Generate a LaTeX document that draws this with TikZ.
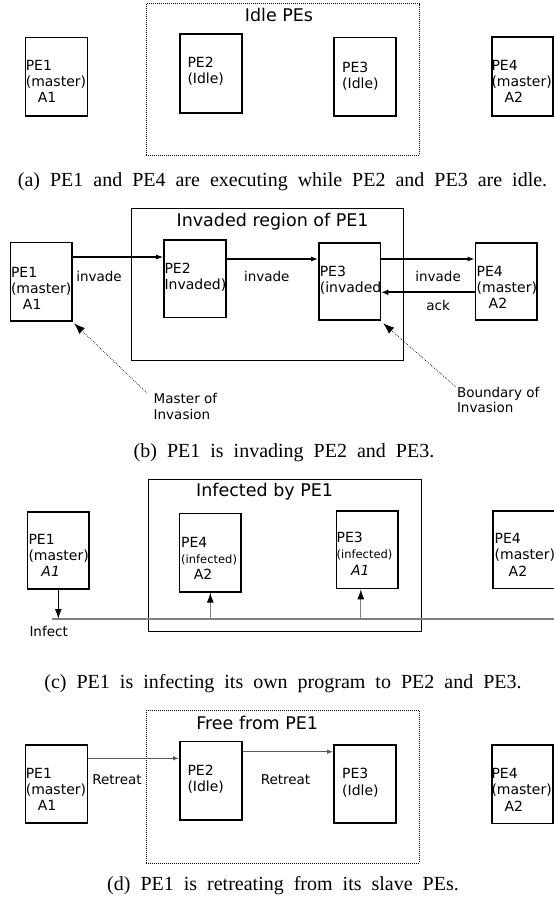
\documentclass[tikz,border=0pt]{standalone}
\usepackage{fontspec}
\setmainfont{DejaVu Sans}
\newfontfamily\capfont{Liberation Serif}
\usetikzlibrary{arrows.meta}
\definecolor{lgray}{HTML}{808080}
\definecolor{rgray}{HTML}{595959}
\newcommand\capsp{\spaceskip=10pt plus 2pt minus 1pt\relax}
\tikzset{
 pebox/.style={draw=black,line width=1.6pt,inner sep=0pt,anchor=north west},
 solidregion/.style={draw=black,line width=1pt,inner sep=0pt,anchor=north west},
 dotregion/.style={draw=black,line width=0.8pt,dash pattern=on 0.8pt off 1.2pt,inner sep=0pt,anchor=north west},
 petext/.style={anchor=north west,inner sep=0pt,align=left,font=\fontsize{14}{16.3}\selectfont},
 notetext/.style={anchor=north west,inner sep=0pt,align=left,font=\fontsize{13.5}{15.5}\selectfont},
 lbl/.style={inner sep=0pt,font=\fontsize{13.5}{16.5}\selectfont},
 ttl/.style={inner sep=0pt,font=\fontsize{17.5}{21}\selectfont},
 capt/.style={inner sep=0pt,font=\capfont\fontsize{20}{24}\selectfont},
 msg/.style={line width=1.1pt,-{Latex[length=7pt,width=5pt]}},
 ackarr/.style={line width=2pt,-{Latex[length=7pt,width=6pt]}},
 pointer/.style={line width=0.7pt,dash pattern=on 0.7pt off 1.3pt,-{Latex[length=11pt,width=8pt]}},
 infarr/.style={line width=1.2pt,-{Latex[length=10pt,width=7pt]}},
 uparr/.style={draw=lgray,line width=1.2pt,-{Latex[length=10pt,width=7pt,color=black]}},
 bus/.style={draw=lgray,line width=1.2pt},
 retarr/.style={draw=rgray,line width=1.1pt,-{Latex[length=6pt,width=4.5pt]}},
}
\begin{document}
\begin{tikzpicture}[x=1pt,y=-1pt]
\useasboundingbox (0,0) rectangle (554,905);

% ---------------- (a) ----------------
\node[dotregion,minimum width=272.8pt,minimum height=151.7pt] (ca) at (145.9,3.3) {};
\node[ttl] (ta) at (279,15) {Idle PEs};
\node[pebox,minimum width=61.9pt,minimum height=78.3pt] (a1) at (24.7,36.7) {};
\node[pebox,minimum width=62.2pt,minimum height=79pt] (a2) at (179.1,33.3) {};
\node[pebox,minimum width=61.8pt,minimum height=78.3pt] (a3) at (333.2,36.7) {};
\node[pebox,minimum width=61.3pt,minimum height=79pt] (a4) at (491,36) {};
\node[petext] (a1t) at (25.6,59.9) {PE1\\(master)\\\hspace*{12pt}A1};
\node[petext] (a2t) at (187.3,56.6) {PE2\\(Idle)};
\node[petext] (a3t) at (342,61.6) {PE3\\(Idle)};
\node[petext] (a4t) at (491.3,59.9) {PE4\\(master)\\\hspace*{13pt}A2};
\node[capt] (capa) at (282.5,182) {\capsp(a) PE1 and PE4 are executing while PE2 and PE3 are idle.};

% ---------------- (b) ----------------
\node[solidregion,minimum width=272.1pt,minimum height=151.7pt] (cb) at (130.7,208.3) {};
\node[ttl] (tb) at (272.6,221.7) {Invaded region of PE1};
\node[pebox,minimum width=61.5pt,minimum height=78.3pt] (b1) at (9.5,241.7) {};
\node[pebox,minimum width=61.9pt,minimum height=77.7pt] (b2) at (163.2,239) {};
\node[pebox,minimum width=61.8pt,minimum height=77pt] (b3) at (318,242.3) {};
\node[pebox,minimum width=61.9pt,minimum height=77pt] (b4) at (474.5,242.3) {};
\node[petext] (b1t) at (10.8,266.6) {PE1\\(master)\\\hspace*{12pt}A1};
\node[petext] (b2t) at (164.3,262.9) {PE2\\Invaded)};
\node[petext] (b3t) at (319.6,265.9) {PE3\\(invaded};
\node[petext] (b4t) at (476.5,265.9) {PE4\\(master)\\\hspace*{12pt}A2};
\coordinate (b1o) at ([yshift=-15.3pt]b1.north east);
\coordinate (b2o) at ([yshift=-20pt]b2.north east);
\coordinate (b3o) at ([yshift=-16.7pt]b3.north east);
\coordinate (b4a) at ([yshift=-50pt]b4.north west);
\draw[msg] (b1o) -- (b1o -| b2.west);
\draw[msg] (b2o) -- (b2o -| b3.west);
\draw[msg] (b3o) -- (b3o -| b4.west);
\draw[ackarr] (b4a) -- (b4a -| b3.east);
\node[lbl] (inv1) at (99,276) {invade};
\node[lbl] (inv2) at (266.8,276) {invade};
\node[lbl] (inv3) at (438.1,276) {invade};
\node[lbl] (ack) at (438.1,305.5) {ack};
\node[notetext] (mlab) at (153.5,393.4) {Master of\\Invasion};
\node[notetext] (blab) at (456.8,386.8) {Boundary of\\Invasion};
\coordinate (mfrom) at (147,393);
\coordinate (bfrom) at (456,387);
\coordinate (mto) at ([xshift=1.5pt,yshift=-1.7pt]b1.south east);
\coordinate (bto) at ([xshift=1.8pt,yshift=-2.4pt]b3.south east);
\draw[pointer] (mfrom) -- (mto);
\draw[pointer] (bfrom) -- (bto);
\node[capt] (capb) at (284,452.5) {\capsp(b) PE1 is invading PE2 and PE3.};

% ---------------- (c) ----------------
\node[solidregion,minimum width=272.1pt,minimum height=151.7pt] (cc) at (148.4,479.3) {};
\node[ttl] (tc) at (264.6,491.7) {Infected by PE1};
\node[pebox,minimum width=61.6pt,minimum height=77.3pt] (c1) at (26.7,511) {};
\node[pebox,minimum width=61.6pt,minimum height=78.3pt] (c2) at (178.7,512.7) {};
\node[pebox,minimum width=61.6pt,minimum height=77.7pt] (c3) at (335.7,510) {};
\node[pebox,minimum width=64pt,minimum height=77.7pt] (c4) at (492.3,510) {};
\node[petext] (c1t) at (28.3,533.9) {PE1\\(master)\\\hspace*{13pt}\textit{A1}};
\node[petext] (c2t) at (181,536.6) {PE4\\{\fontsize{11.5}{14}\selectfont(infected)}\\\hspace*{12.6pt}A2};
\node[petext] (c3t) at (336.4,531.9) {PE3\\{\fontsize{11.5}{14}\selectfont(infected)}\\\hspace*{14.5pt}\textit{A1}};
\node[petext] (c4t) at (494.5,533.2) {PE4\\(master)\\\hspace*{14pt}A2};
\coordinate (ls) at (51.7,619);
\coordinate (le) at (556,619);
\draw[bus] (ls) -- (le);
\coordinate (c3a) at ([xshift=-6.5pt]c3.south);
\draw[infarr] (c1.south) -- (c1.south |- ls);
\draw[uparr] (c2.south |- ls) -- (c2.south);
\draw[uparr] (c3a |- ls) -- (c3a);
\node[lbl,anchor=west] (inf) at (29.3,631.7) {Infect};
\node[capt] (capc) at (283,684) {\capsp(c) PE1 is infecting its own program to PE2 and PE3.};

% ---------------- (d) ----------------
\node[dotregion,minimum width=272.8pt,minimum height=152.7pt] (cd) at (145.9,710) {};
\node[ttl] (td) at (257.2,723.3) {Free from PE1};
\node[pebox,minimum width=61.9pt,minimum height=78.3pt] (d1) at (24.7,744) {};
\node[pebox,minimum width=62.2pt,minimum height=78.3pt] (d2) at (179.1,740.7) {};
\node[pebox,minimum width=61.8pt,minimum height=78.3pt] (d3) at (333.2,744) {};
\node[pebox,minimum width=61.3pt,minimum height=78.7pt] (d4) at (491,744) {};
\node[petext] (d1t) at (25.6,767.9) {PE1\\(master)\\\hspace*{12pt}A1};
\node[petext] (d2t) at (187.3,764.9) {PE2\\(Idle)};
\node[petext] (d3t) at (342,768.2) {PE3\\(Idle)};
\node[petext] (d4t) at (491.3,768.2) {PE4\\(master)\\\hspace*{13pt}A2};
\coordinate (d1o) at ([yshift=-14.3pt]d1.north east);
\coordinate (d2o) at ([yshift=-11pt]d2.north east);
\draw[retarr] (d1o) -- (d1o -| d2.west);
\draw[retarr] (d2o) -- (d2o -| d3.west);
\node[lbl] (r1) at (117,779.5) {Retreat};
\node[lbl] (r2) at (285.5,779.5) {Retreat};
\node[capt] (capd) at (283,886) {\capsp(d) PE1 is retreating from its slave PEs.};
\end{tikzpicture}
\end{document}
